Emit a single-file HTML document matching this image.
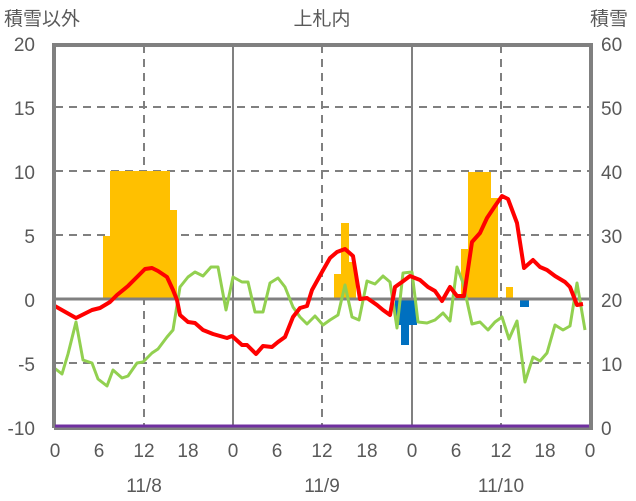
<!DOCTYPE html>
<html><head><meta charset="utf-8"><style>
html,body{margin:0;padding:0;background:#fff;}
svg{display:block;}
text{font-family:"Liberation Sans","Noto Sans CJK JP",sans-serif;fill:#595959;font-size:19px;}
</style></head><body>
<svg width="636" height="501" viewBox="0 0 636 501">
<g stroke="#808080" stroke-width="2" stroke-dasharray="8,6">
<line x1="55" y1="107" x2="591" y2="107"/><line x1="55" y1="171" x2="591" y2="171"/>
<line x1="55" y1="235" x2="591" y2="235"/><line x1="55" y1="363" x2="591" y2="363"/>
<line x1="144" y1="45" x2="144" y2="427"/><line x1="322" y1="45" x2="322" y2="427"/><line x1="501" y1="45" x2="501" y2="427"/>
</g>
<g stroke="#808080" stroke-width="2">
<line x1="233" y1="45" x2="233" y2="427"/><line x1="412" y1="45" x2="412" y2="427"/>
</g>
<g fill="#FFC000">
<rect x="103" y="236" width="7" height="63"/><rect x="110" y="171" width="60" height="128"/><rect x="170" y="210" width="7" height="89"/>
<rect x="334" y="274" width="7" height="25"/><rect x="341" y="223" width="8" height="76"/><rect x="349" y="262" width="7" height="37"/>
<rect x="461" y="249" width="7" height="50"/><rect x="468" y="172" width="23" height="127"/><rect x="491" y="198" width="7" height="101"/>
<rect x="506" y="287" width="7" height="12"/>
</g>
<g fill="#0070C0">
<rect x="395" y="299" width="6" height="26"/><rect x="401" y="299" width="8" height="46"/><rect x="409" y="299" width="8" height="26"/>
<rect x="520" y="299" width="9" height="8"/>
</g>
<line x1="55" y1="299" x2="591" y2="299" stroke="#808080" stroke-width="3"/>
<polyline fill="none" stroke="#92D050" stroke-width="3" stroke-linejoin="round" points="53,367 62,374 68,354 76,322 83,360 92,363 98,379 107,386 113,370 122,378 128,376 137,363 143,362 152,353 158,349 167,337 173,330 180,287 188,277 195,272 203,276 211,267 218,267 226,310 233,277 242,282 248,282 255,312 263,312 270,283 278,278 285,287 293,307 300,317 307,324 315,316 323,325 330,320 338,315 345,285 352,317 359,320 367,281 375,284 383,276 390,282 397,328 403,273 412,272 418,322 427,323 435,320 443,313 450,321 457,267 463,283 472,324 480,322 488,330 495,322 502,317 509,339 517,321 525,382 533,357 540,361 547,353 555,325 563,330 570,326 577,283 585,330"/>
<polyline fill="none" stroke="#FF0000" stroke-width="4" stroke-linejoin="round" points="53,305 76,318 92,310 100,308 110,302 117,295 128,286 137,277 145,269 152,268 158,271 167,277 173,290 177,300 180,315 188,322 195,323 203,330 213,334 227,338 232,336 242,345 247,345 256,354 263,346 272,347 278,342 285,337 293,317 300,308 307,306 312,290 322,272 330,258 337,252 345,249 353,256 360,299 367,298 377,305 383,310 390,315 395,287 402,282 410,276 420,280 428,287 435,291 442,301 450,287 457,296 464,296 472,242 480,233 487,218 495,206 502,196 508,199 517,223 524,268 533,260 540,267 547,270 555,276 565,282 570,287 577,305 583,304"/>
<line x1="55" y1="426" x2="591" y2="426" stroke="#7030A0" stroke-width="3"/>
<polyline fill="none" stroke="#808080" stroke-width="4" points="54,428 54,45 591,45 591,428 54,428"/>
<line x1="55" y1="426" x2="589" y2="426" stroke="#7030A0" stroke-width="3"/>
<g text-anchor="end">
<text x="35" y="51">20</text><text x="35" y="115">15</text><text x="35" y="179">10</text><text x="35" y="243">5</text>
<text x="35" y="307">0</text><text x="35" y="371">-5</text><text x="35" y="435">-10</text>
</g>
<g text-anchor="start">
<text x="601" y="51">60</text><text x="601" y="115">50</text><text x="601" y="179">40</text><text x="601" y="243">30</text>
<text x="601" y="307">20</text><text x="601" y="371">10</text><text x="601" y="435">0</text>
</g>
<g text-anchor="middle">
<text x="55" y="457">0</text><text x="99" y="457">6</text><text x="144" y="457">12</text><text x="188" y="457">18</text>
<text x="233" y="457">0</text><text x="277" y="457">6</text><text x="322" y="457">12</text><text x="367" y="457">18</text>
<text x="412" y="457">0</text><text x="456" y="457">6</text><text x="501" y="457">12</text><text x="545" y="457">18</text><text x="590" y="457">0</text>
<text x="144" y="492">11/8</text><text x="322" y="492">11/9</text><text x="501" y="492">11/10</text>
<text x="322" y="25">上札内</text>
</g>
<text x="4" y="25">積雪以外</text>
<text x="590" y="25">積雪</text>
</svg>
</body></html>
